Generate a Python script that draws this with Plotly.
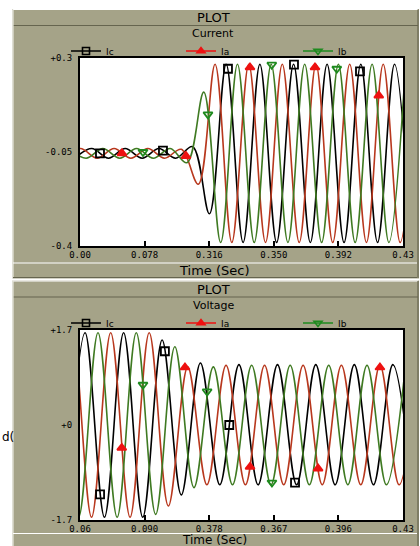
import plotly.graph_objects as go

# ---------------- data ----------------
# Top panel: Current vs time (s)
cur_ic_t = [0.2674, 0.2758, 0.2841, 0.2924, 0.3008, 0.3091, 0.3174, 0.3258, 0.3341, 0.3424,
            0.3508, 0.3591, 0.3674, 0.3758, 0.3841, 0.3924, 0.4008, 0.4091, 0.4174, 0.4258, 0.4341]
cur_ic_v = [-0.073, -0.037, -0.073, -0.037, -0.073, -0.037, -0.073, -0.030, -0.280, 0.277,
            -0.387, 0.277, -0.387, 0.277, -0.387, 0.277, -0.387, 0.277, -0.387, 0.277, -0.387]
cur_ia_t = [0.2619, 0.2702, 0.2785, 0.2869, 0.2952, 0.3036, 0.3119, 0.3202, 0.3286, 0.3369, 0.3452,
            0.3536, 0.3619, 0.3702, 0.3786, 0.3869, 0.3952, 0.4036, 0.4119, 0.4202, 0.4286, 0.4369]
cur_ia_v = [-0.073, -0.037, -0.073, -0.037, -0.073, -0.037, -0.073, -0.040, -0.170, 0.277, -0.387,
            0.277, -0.387, 0.277, -0.387, 0.277, -0.387, 0.277, -0.387, 0.277, -0.387, 0.277]
cur_ib_t = [0.2647, 0.2730, 0.2813, 0.2897, 0.2980, 0.3063, 0.3147, 0.3230, 0.3313, 0.3397, 0.3480,
            0.3563, 0.3647, 0.3730, 0.3813, 0.3897, 0.3980, 0.4063, 0.4147, 0.4230, 0.4313]
cur_ib_v = [-0.037, -0.073, -0.037, -0.073, -0.037, -0.073, -0.037, -0.090, 0.173, -0.387, 0.277,
            -0.387, 0.277, -0.387, 0.277, -0.387, 0.277, -0.387, 0.277, -0.387, 0.277]
# marker positions on the current curves
cur_ic_mk_t = [0.2799, 0.3111, 0.3433, 0.3760, 0.4087]
cur_ic_mk_v = [-0.055, -0.045, 0.260, 0.275, 0.250]
cur_ia_mk_t = [0.2908, 0.3225, 0.3542, 0.3864, 0.4180]
cur_ia_mk_v = [-0.055, -0.065, 0.265, 0.265, 0.160]
cur_ib_mk_t = [0.3012, 0.3334, 0.3650, 0.3972]
cur_ib_mk_v = [-0.050, 0.090, 0.275, 0.260]

# Bottom panel: Voltage vs time (s)
vol_ic_t = [0.2839, 0.2922, 0.3006, 0.3089, 0.3172, 0.3256, 0.3339, 0.3422, 0.3506, 0.3589,
            0.3672, 0.3756, 0.3839, 0.3922, 0.4006, 0.4089, 0.4172, 0.4256, 0.4339]
vol_ic_v = [-1.65, 1.65, -1.65, 1.65, -1.65, 1.52, -1.25, 1.11, -1.07, 1.08,
            -1.07, 1.08, -1.07, 1.08, -1.07, 1.08, -1.07, 1.08, -1.07]
vol_ia_t = [0.2783, 0.2867, 0.2950, 0.3033, 0.3117, 0.3200, 0.3283, 0.3367, 0.3450, 0.3533,
            0.3617, 0.3700, 0.3783, 0.3867, 0.3950, 0.4033, 0.4117, 0.4200, 0.4283, 0.4367]
vol_ia_v = [-1.65, 1.65, -1.65, 1.65, -1.65, 1.65, -1.45, 1.04, -1.07, 1.07,
            -1.07, 1.07, -1.07, 1.07, -1.07, 1.07, -1.07, 1.07, -1.07, 1.07]
vol_ib_t = [0.2811, 0.2894, 0.2978, 0.3061, 0.3144, 0.3228, 0.3311, 0.3394, 0.3478, 0.3561,
            0.3644, 0.3728, 0.3811, 0.3894, 0.3978, 0.4061, 0.4144, 0.4228, 0.4311]
vol_ib_v = [1.65, -1.65, 1.65, -1.65, 1.65, -1.60, 1.40, -1.12, 1.04, -1.07,
            1.07, -1.07, 1.07, -1.07, 1.07, -1.07, 1.07, -1.07, 1.07]
vol_ic_mk_t = [0.2987, 0.3268, 0.3547, 0.3832]
vol_ic_mk_v = [-1.24, 1.32, 0.00, -1.03]
vol_ia_mk_t = [0.3081, 0.3355, 0.3637, 0.3932, 0.4200]
vol_ia_mk_v = [-0.41, 1.03, -0.75, -0.78, 1.03]
vol_ib_mk_t = [0.3173, 0.3451, 0.3732]
vol_ib_mk_v = [0.72, 0.60, -1.03]

series_names = ["Ic", "Ia", "Ib"]

# axis ticks
cur_xtick_vals = [0.27, 0.302, 0.334, 0.366, 0.398, 0.43]
cur_xtick_text = ["0.00", "0.078", "0.316", "0.350", "0.392", "0.43"]
vol_xtick_vals = [0.29, 0.318, 0.346, 0.374, 0.402, 0.43]
vol_xtick_text = ["0.06", "0.090", "0.378", "0.367", "0.396", "0.43"]
cur_ytick_vals = [-0.4, -0.05, 0.3]
cur_ytick_text = ["-0.4", "-0.05", "+0.3"]
vol_ytick_vals = [-1.7, 0.0, 1.7]
vol_ytick_text = ["-1.7", "+0", "+1.7"]

# ---------------- styling ----------------
W, H = 420, 546
PANEL = "#a5a388"
LINE_COLORS = ["#000000", "#b8381e", "#3f7a22"]
MK_COLORS = ["#000000", "#ee1111", "#1e8a1e"]
MK_SYMBOLS = ["square-open", "triangle-up", "triangle-down-open"]
MK_SIZES = [8, 8, 8]
LEGEND_X = [66, 181, 298]       # left edge of each legend entry (px)
FONT = "DejaVu Sans"
MONO = "DejaVu Sans Mono"


def px(x):
    return x / W


def py(y):
    return 1 - y / H


fig = go.Figure()

panels = [
    ("x", "y", 51, ["legend", "legend2", "legend3"],
     [(cur_ic_t, cur_ic_v), (cur_ia_t, cur_ia_v), (cur_ib_t, cur_ib_v)],
     [(cur_ic_mk_t, cur_ic_mk_v), (cur_ia_mk_t, cur_ia_mk_v), (cur_ib_mk_t, cur_ib_mk_v)]),
    ("x2", "y2", 323, ["legend4", "legend5", "legend6"],
     [(vol_ic_t, vol_ic_v), (vol_ia_t, vol_ia_v), (vol_ib_t, vol_ib_v)],
     [(vol_ic_mk_t, vol_ic_mk_v), (vol_ia_mk_t, vol_ia_mk_v), (vol_ib_mk_t, vol_ib_mk_v)]),
]

legend_layout = {}
for xa, ya, ly, lgs, lines, marks in panels:
    for i, (t, v) in enumerate(lines):
        fig.add_trace(go.Scatter(
            x=t, y=v, mode="lines", xaxis=xa, yaxis=ya, showlegend=False, hoverinfo="skip",
            line=dict(color=LINE_COLORS[i], width=1.6, shape="spline", smoothing=1.0)))
    for i, (t, v) in enumerate(marks):
        fig.add_trace(go.Scatter(
            x=t, y=v, mode="markers", xaxis=xa, yaxis=ya, showlegend=False, hoverinfo="skip",
            marker=dict(symbol=MK_SYMBOLS[i], size=MK_SIZES[i], color=MK_COLORS[i],
                        line=dict(color=MK_COLORS[i], width=1.8))))
    for i, name in enumerate(series_names):
        fig.add_trace(go.Scatter(
            x=[None], y=[None], mode="lines+markers", name=name, xaxis=xa, yaxis=ya,
            legend=lgs[i], showlegend=True,
            line=dict(color=LINE_COLORS[i] if i == 0 else MK_COLORS[i], width=1.6),
            marker=dict(symbol=MK_SYMBOLS[i], size=7, color=MK_COLORS[i],
                        line=dict(color=MK_COLORS[i], width=1.6))))
        legend_layout[lgs[i]] = dict(
            orientation="h", x=px(LEGEND_X[i]), xanchor="left", y=py(ly), yanchor="middle",
            bgcolor="rgba(0,0,0,0)", borderwidth=0, itemwidth=30,
            font=dict(family=FONT, size=9, color="black"))

axis_common = dict(showline=True, mirror=True, linecolor="black", linewidth=2,
                   showgrid=False, zeroline=False, tickmode="array", automargin=False,
                   tickfont=dict(family=MONO, size=9, color="black"))
xaxis_common = dict(ticks="inside", ticklen=5, tickwidth=1.5, tickcolor="black",
                    ticklabelstandoff=-1)
yaxis_common = dict(ticks="", ticklabelstandoff=4)

fig.update_layout(
    width=W, height=H, autosize=False,
    margin=dict(l=0, r=0, t=0, b=0, pad=0, autoexpand=False),
    paper_bgcolor=PANEL, plot_bgcolor="white",
    xaxis=dict(domain=[px(80), px(403)], range=[0.27, 0.43], anchor="y",
               tickvals=cur_xtick_vals, ticktext=cur_xtick_text, **xaxis_common, **axis_common),
    yaxis=dict(domain=[py(246), py(58)], range=[-0.4, 0.3], anchor="x",
               tickvals=cur_ytick_vals, ticktext=cur_ytick_text, **yaxis_common, **axis_common),
    xaxis2=dict(domain=[px(80), px(403)], range=[0.29, 0.43], anchor="y2",
                tickvals=vol_xtick_vals, ticktext=vol_xtick_text, **xaxis_common, **axis_common),
    yaxis2=dict(domain=[py(520), py(330)], range=[-1.7, 1.7], anchor="x2",
                tickvals=vol_ytick_vals, ticktext=vol_ytick_text, **yaxis_common, **axis_common),
    showlegend=True,
    **legend_layout,
)

# ---------------- panel frame decorations ----------------
shapes = []


def rect(x0, y0, x1, y1, color):
    shapes.append(dict(type="rect", xref="paper", yref="paper", x0=px(x0), x1=px(x1),
                       y0=py(y1), y1=py(y0), fillcolor=color, line=dict(width=0), layer="above"))


def hline(x0, x1, y, color, w=1):
    shapes.append(dict(type="line", xref="paper", yref="paper", x0=px(x0), x1=px(x1),
                       y0=py(y), y1=py(y), line=dict(color=color, width=w), layer="above"))


def vline(x, y0, y1, color, w=1):
    shapes.append(dict(type="line", xref="paper", yref="paper", x0=px(x), x1=px(x),
                       y0=py(y0), y1=py(y1), line=dict(color=color, width=w), layer="above"))


rect(0, 0, 420, 9, "white")
rect(0, 0, 12.5, 546, "white")
rect(419, 0, 420, 546, "white")
rect(0, 278.5, 420, 280.5, "white")
DARK = "#66654f"
for top in (9.5, 281):
    hline(13, 418, top, "white", 1.2)
    hline(13, 418, top + 16, DARK, 1.2)
vline(13, 9.5, 278, "#e8e8e0", 1.2)
vline(13, 281, 546, "#e8e8e0", 1.2)
vline(418, 9.5, 278, DARK, 1.2)
vline(418, 281, 546, DARK, 1.2)
hline(13, 417, 263, "white", 1.2)
hline(13, 417, 277.5, DARK, 1)
hline(13, 417, 533.5, "white", 1.2)
fig.update_layout(shapes=shapes)

ann = []


def text(x, y, s, size, family=FONT, xanchor="center"):
    ann.append(dict(x=px(x), y=py(y), xref="paper", yref="paper", text=s, showarrow=False,
                    xanchor=xanchor, yanchor="middle",
                    font=dict(family=family, size=size, color="black")))


text(213, 17.5, "PLOT", 13)
text(213, 289.5, "PLOT", 13)
text(213, 33, "Current", 11)
text(213, 305.5, "Voltage", 11)
text(214, 270.5, "Time (Sec)", 13)
text(214, 539.5, "Time (Sec)", 12)
text(0, 437, "d(", 12, xanchor="left")
fig.update_layout(annotations=ann)

fig.write_html(
    "out.html",
    config={"displayModeBar": False},
    post_script="document.body.style.margin='0';document.body.style.padding='0';"
                "document.documentElement.style.overflow='hidden';",
)
